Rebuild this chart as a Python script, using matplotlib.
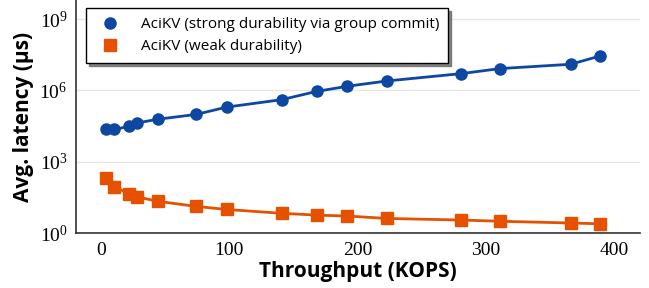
import matplotlib
matplotlib.use('Agg')
import matplotlib.pyplot as plt
from matplotlib.ticker import NullLocator, FixedLocator

# Throughput (KOPS) and avg. latency (us)
strong_kops = [3.9, 10.4, 21.8, 28.0, 44.4, 74.0, 98.0, 140.8, 168.0, 192.0, 222.7, 280.8, 311.0, 366.0, 388.9]
strong_lat = [23000, 23000, 31000, 43000, 62000, 98000, 200000, 410000, 910000,
              1.5e6, 2.5e6, 5.1e6, 8.3e6, 1.26e7, 2.8e7]
weak_kops = [3.9, 10.4, 21.8, 28.0, 44.4, 74.0, 98.0, 140.8, 168.0, 192.0, 222.7, 280.8, 311.0, 366.0, 388.9]
weak_lat = [213, 89, 46, 34, 22, 13.5, 10, 6.9, 5.8, 5.3, 4.2, 3.6, 3.2, 2.7, 2.5]

label_strong = 'AciKV (strong durability via group commit)'
label_weak = 'AciKV (weak durability)'
x_ticks = [0, 100, 200, 300, 400]

sans = ['Open Sans', 'DejaVu Sans']
serif = ['Liberation Serif', 'DejaVu Serif']

fig = plt.figure(figsize=(6.49, 2.88), dpi=100)
ax = fig.add_axes([0.117, 0.19, 0.869, 0.81])

ax.plot(strong_kops, strong_lat, '-o', color='#0d47a1', lw=2, markersize=8,
        label=label_strong, zorder=3)
ax.plot(weak_kops, weak_lat, '-s', color='#e65100', lw=2, markersize=8,
        label=label_weak, zorder=3)

ax.set_yscale('log')
ax.set_ylim(1, 10 ** 9.8)
ax.set_xlim(-19.5, 420)
ax.yaxis.set_major_locator(FixedLocator([1, 1e3, 1e6, 1e9]))
ax.yaxis.set_minor_locator(NullLocator())
ax.xaxis.set_major_locator(FixedLocator(x_ticks))
ax.grid(axis='y', color='#e6e6e6', lw=1, zorder=0)
ax.set_axisbelow(True)

for s in ['top', 'right']:
    ax.spines[s].set_visible(False)
for s in ['left', 'bottom']:
    ax.spines[s].set_color('#333333')
    ax.spines[s].set_linewidth(1.2)

ax.tick_params(length=0, pad=6, labelsize=14)
for lab in ax.get_xticklabels() + ax.get_yticklabels():
    lab.set_family(serif)

ax.set_xlabel('Throughput (KOPS)', fontsize=15, fontweight='bold', family=sans, labelpad=2)
ax.set_ylabel('Avg. latency (µs)', fontsize=15, fontweight='bold', family=sans, labelpad=4)

leg = ax.legend(loc='upper left', bbox_to_anchor=(0.004, 0.998),
                prop={'family': sans, 'size': 11}, fancybox=False,
                shadow={'color': '#666666', 'alpha': 0.8},
                framealpha=1, edgecolor='black', borderpad=0.6, handletextpad=1.0,
                labelspacing=0.45, handlelength=2.0)
leg.get_frame().set_linewidth(1.0)
for h in leg.legend_handles:
    h.set_linestyle('none')

fig.savefig('out.png', dpi=100)
